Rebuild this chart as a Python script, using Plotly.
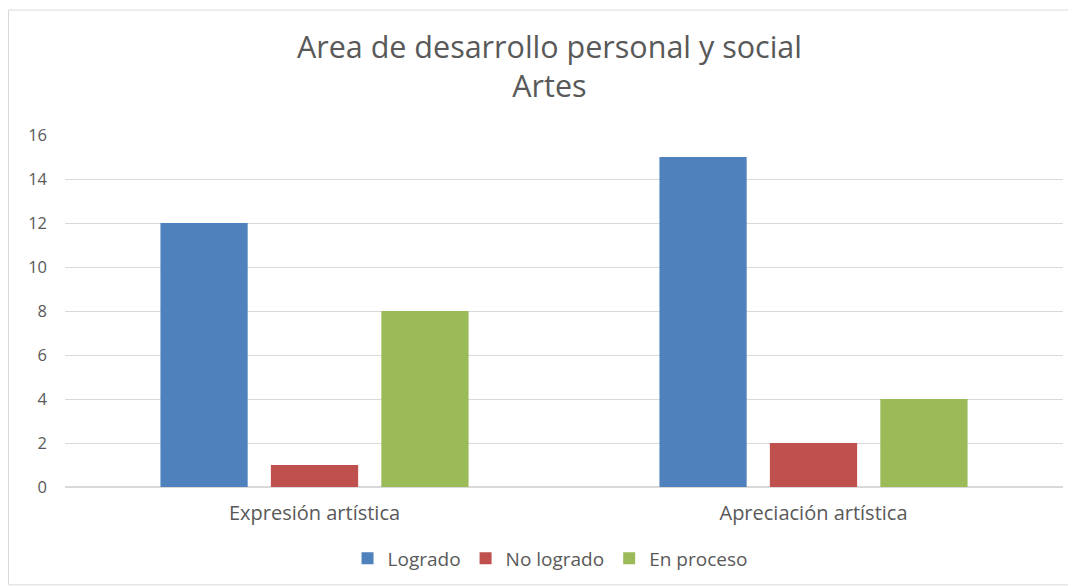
import plotly.graph_objects as go

categories = ["Expresión artística", "Apreciación artística"]
series_names = ["Logrado", "No logrado", "En proceso"]
logrado = [12, 15]
no_logrado = [1, 2]
en_proceso = [8, 4]
y_ticks = [0, 2, 4, 6, 8, 10, 12, 14, 16]

colors = ["#4F81BD", "#C0504D", "#9BBB59"]
FONT = "Open Sans, Noto Sans, sans-serif"

fig = go.Figure()
for name, vals, c in zip(series_names, [logrado, no_logrado, en_proceso], colors):
    fig.add_trace(go.Bar(x=categories, y=vals, name=name, marker_color=c,
                         marker_line_width=0))

fig.update_layout(
    width=1068, height=578,
    margin=dict(l=57, r=13, t=127, b=99, autoexpand=False),
    paper_bgcolor="white", plot_bgcolor="white",
    barmode="group", bargap=0.336, bargroupgap=0.21,
    font=dict(family=FONT, color="#595959", size=17),
    title=dict(text="Area de desarrollo personal y social<br>Artes",
               x=0.507, xanchor="center", y=0.914, yanchor="middle",
               font=dict(family=FONT, size=30.5, color="#595959")),
    legend=dict(orientation="h", x=0.486, xanchor="center", y=-0.203, yanchor="middle",
                font=dict(size=19, color="#595959"), traceorder="normal",
                itemwidth=30),
    showlegend=True,
)
fig.update_yaxes(range=[0, 16], tickvals=y_ticks, showgrid=True, gridcolor="#D9D9D9",
                 gridwidth=1, zeroline=True, zerolinecolor="#D9D9D9", showline=False,
                 ticks="", tickfont=dict(size=16.5, color="#595959"), ticklabelstandoff=17,
                 automargin=False)
fig.update_xaxes(showline=False, ticks="", tickfont=dict(size=20, color="#595959"),
                 ticklabelstandoff=12, automargin=False)
fig.add_shape(type="rect", xref="paper", yref="paper", x0=-0.0566, x1=1.011,
              y0=-0.278, y1=1.355, line=dict(color="#D9D9D9", width=1),
              fillcolor="rgba(0,0,0,0)", layer="below")

fig.write_html("out.html")
